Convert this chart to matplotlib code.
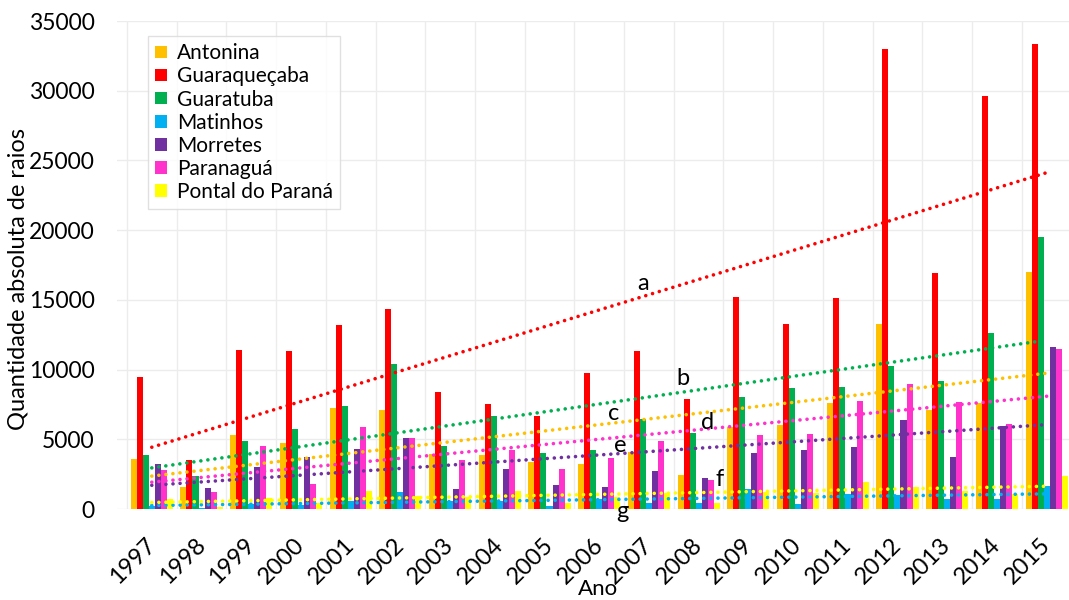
import numpy as np
import matplotlib
matplotlib.use("Agg")
import matplotlib.pyplot as plt
from matplotlib.patches import Patch
from matplotlib.transforms import ScaledTranslation

plt.rcParams['font.family'] = ['Lato', 'DejaVu Sans']

years = [str(y) for y in range(1997, 2016)]
series_names = ["Antonina", "Guaraqueçaba", "Guaratuba", "Matinhos",
                "Morretes", "Paranaguá", "Pontal do Paraná"]

antonina = [3600, 1600, 5300, 4700, 7250, 7100, 3950, 3850, 3400, 3200,
            4100, 2450, 5900, 6000, 7600, 13250, 7100, 7600, 17000]
guaraquecaba = [9450, 3500, 11400, 11330, 13170, 14350, 8400, 7550, 6700, 9750,
                11300, 7900, 15200, 13300, 15100, 33000, 16900, 29600, 33350]
guaratuba = [3900, 2400, 4850, 5750, 7400, 10400, 4500, 6650, 4050, 4250,
             6450, 5450, 8000, 8650, 8750, 10250, 9200, 12650, 19500]
matinhos = [250, 100, 360, 300, 550, 1200, 550, 600, 200, 750,
            450, 400, 1450, 380, 1100, 1000, 750, 700, 1650]
morretes = [3200, 1500, 3000, 3700, 4300, 5100, 1400, 2850, 1700, 1550,
            2700, 2200, 4050, 4250, 4450, 6400, 3700, 5950, 11650]
paranagua = [2800, 1200, 4500, 1800, 5900, 5100, 3550, 4250, 2850, 3650,
             4900, 2050, 5300, 5350, 7750, 8950, 7650, 6100, 11450]
pontal = [700, 150, 810, 450, 1300, 900, 850, 1300, 400, 860,
          1150, 430, 1250, 1150, 1950, 1600, 1290, 1050, 2350]

colors = ["#FFC000", "#FF0000", "#00B050", "#00B0F0", "#7030A0", "#FF33CC", "#FFFF00"]

# labels placed next to the trend lines (category index, value)
letter_pos = {"a": (9.88, 16200), "b": (10.69, 9390), "c": (9.28, 6880),
              "d": (11.17, 6170), "e": (9.42, 4520), "f": (11.43, 2080),
              "g": (9.46, -215)}

all_series = [antonina, guaraquecaba, guaratuba, matinhos, morretes, paranagua, pontal]

fig = plt.figure(figsize=(10.69, 6.0), dpi=100)
ax = fig.add_axes([117 / 1069, 1 - 509 / 600, 1 - 117 / 1069, (509 - 21) / 600])

x = np.arange(len(years))
bw = 0.121
offsets = (np.arange(7) - 3) * bw

for vals, off, col in zip(all_series, offsets, colors):
    ax.bar(x + off, vals, width=bw, color=col, edgecolor='none', zorder=2)

# linear trend lines
xs = np.array([0, len(years) - 1], dtype=float)
for vals, col in zip(all_series, colors):
    k, b = np.polyfit(x, np.array(vals, dtype=float), 1)
    ax.plot(xs, k * xs + b, color=col, lw=2.6, dashes=(0.01, 1.95),
            dash_capstyle='round', zorder=3)

for letter, (lx, ly) in letter_pos.items():
    ax.text(lx, ly, letter, fontsize=17, ha='center', va='center', color='black',
            zorder=4, clip_on=False)

ax.set_xlim(-0.7, len(years) - 1 + 0.45)
ax.set_ylim(0, 35000)
ax.set_yticks(np.arange(0, 35001, 5000))
ax.set_xticks(x)
ax.set_xticklabels(years, rotation=45, ha='right', va='top', rotation_mode='anchor',
                   fontsize=17)
ax.tick_params(axis='y', labelsize=16.5, length=0, pad=16)
ax.tick_params(axis='x', length=0, pad=0)
for lab in ax.get_xticklabels():
    lab.set_transform(lab.get_transform() + ScaledTranslation(-7 / 100, -25 / 100, fig.dpi_scale_trans))

ax.set_xticks(np.arange(-0.5, len(years) - 1, 1.0), minor=True)
ax.tick_params(axis='x', which='minor', length=0)
ax.grid(axis='x', which='minor', color='#ececec', lw=1, zorder=0)
ax.grid(axis='y', which='major', color='#ececec', lw=1, zorder=0)
for s in ax.spines.values():
    s.set_visible(False)

handles = [Patch(facecolor=c, edgecolor='none', label=n) for c, n in zip(colors, series_names)]
leg = fig.legend(handles=handles, loc='upper left', bbox_to_anchor=(148 / 1069, 1 - 36 / 600),
                 fontsize=15, frameon=True, fancybox=False, handlelength=0.55,
                 handleheight=0.55, handletextpad=0.5, labelspacing=0.15,
                 borderpad=0.35, borderaxespad=0)
leg.get_frame().set_edgecolor('#d9d9d9')
leg.get_frame().set_linewidth(1)

fig.text(598 / 1069, 1 - 595 / 600, "Ano", fontsize=16, ha='center', va='baseline')
fig.text(18 / 1069, 1 - 279 / 600, "Quantidade absoluta de raios", fontsize=17,
         ha='center', va='center', rotation=90)

fig.savefig("out.png", dpi=100)
